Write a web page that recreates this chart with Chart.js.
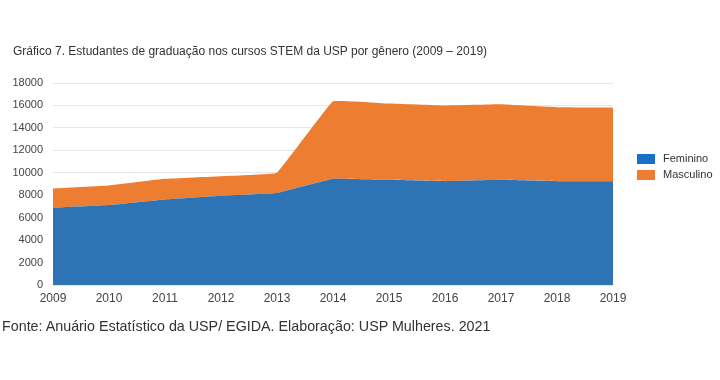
<!DOCTYPE html>
<html>
<head>
<meta charset="utf-8">
<script src="https://cdn.jsdelivr.net/npm/chart.js@4"></script>
<style>
  html, body { margin: 0; padding: 0; background: #fff; }
  body { width: 720px; height: 380px; position: relative; overflow: hidden; font-family: "Liberation Sans", Arial, sans-serif; }
  #wrap { position: absolute; left: 0; top: 0; width: 720px; height: 380px; }
  #title { position: absolute; left: 13px; top: 44px; font-size: 12px; color: #333; white-space: nowrap; }
  #foot { position: absolute; left: 2px; top: 318px; font-size: 14.3px; color: #333; white-space: nowrap; }
  .lg { position: absolute; left: 637px; font-size: 11px; color: #333; white-space: nowrap; }
  .lg span { display: inline-block; width: 18px; height: 10px; vertical-align: middle; margin-right: 8px; }
</style>
</head>
<body>
<div id="wrap"><canvas id="c" width="720" height="380"></canvas></div>
<div id="title">Gráfico 7. Estudantes de graduação nos cursos STEM da USP por gênero (2009 – 2019)</div>
<div id="foot">Fonte: Anuário Estatístico da USP/ EGIDA. Elaboração: USP Mulheres. 2021</div>
<div class="lg" id="lg1" style="top:152px"><span style="background:#1a6fc6"></span>Feminino</div>
<div class="lg" id="lg2" style="top:168px"><span style="background:#ed7d31"></span>Masculino</div>
<script>
const years = ["2009","2010","2011","2012","2013","2014","2015","2016","2017","2018","2019"];
const feminino = [6880, 7120, 7620, 7950, 8190, 9460, 9370, 9250, 9370, 9250, 9250];
const masculino = [1720, 1750, 1840, 1750, 1820, 6910, 6795, 6740, 6730, 6590, 6560];
const seriesNames = ["Feminino", "Masculino"];
const yTicks = [0, 2000, 4000, 6000, 8000, 10000, 12000, 14000, 16000, 18000];

new Chart(document.getElementById('c'), {
  type: 'line',
  data: {
    labels: years,
    datasets: [
      { label: seriesNames[0], data: feminino, backgroundColor: '#2e74b5', borderColor: '#2e74b5', borderWidth: 0, pointRadius: 0, fill: 'origin', tension: 0.06 },
      { label: seriesNames[1], data: masculino, backgroundColor: '#ed7d31', borderColor: '#ed7d31', borderWidth: 0, pointRadius: 0, fill: '-1', tension: 0.06 }
    ]
  },
  options: {
    responsive: false,
    animation: false,
    devicePixelRatio: 1,
    layout: { padding: { left: 0, right: 107, top: 83, bottom: 75 } },
    plugins: { legend: { display: false }, tooltip: { enabled: false } },
    scales: {
      x: {
        offset: false,
        grid: { display: false, drawTicks: false },
        border: { display: false },
        ticks: { color: '#444', font: { family: 'Liberation Sans', size: 12 }, padding: 6, maxRotation: 0 },
        afterFit: s => { s.height = 20; }
      },
      y: {
        stacked: true,
        min: 0, max: 18000,
        afterBuildTicks: s => { s.ticks = yTicks.map(v => ({ value: v })); },
        grid: { color: '#e6e6e6', drawTicks: false, lineWidth: 1 },
        border: { display: false },
        ticks: { color: '#444', font: { family: 'Liberation Sans', size: 11 }, padding: 10, callback: v => String(v) },
        afterFit: s => { s.width = 53; }
      }
    }
  }
});
</script>
</body>
</html>
